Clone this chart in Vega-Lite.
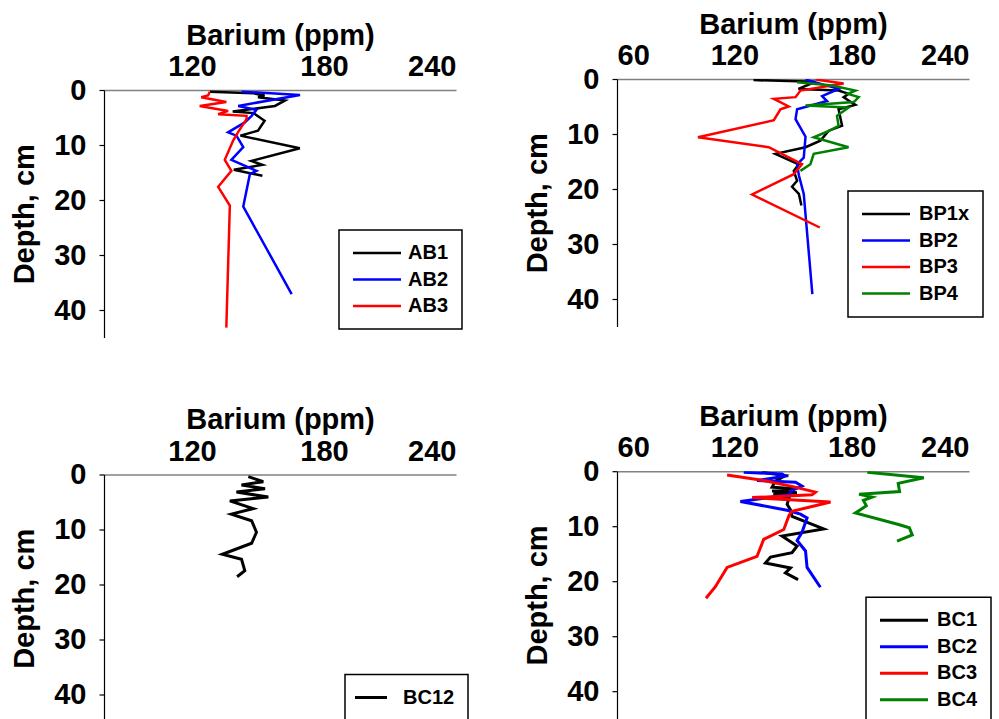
{
  "$schema": "https://vega.github.io/schema/vega-lite/v6.json",
  "autosize": {"type": "pad"},
  "padding": {"left": 10, "top": 10, "right": 0, "bottom": 0},
  "background": "white",
  "datasets": {
    "ab": [
      {"s":"AB1","v":128.1,"d":0.3},{"s":"AB1","v":148,"d":0.6},{"s":"AB1","v":153,"d":1.0},{"s":"AB1","v":150,"d":1.3},{"s":"AB1","v":162.3,"d":1.9},{"s":"AB1","v":157.7,"d":2.9},{"s":"AB1","v":150,"d":3.3},{"s":"AB1","v":138.5,"d":3.9},{"s":"AB1","v":148,"d":4.2},{"s":"AB1","v":153,"d":5.6},{"s":"AB1","v":150,"d":7.4},{"s":"AB1","v":142,"d":8.3},{"s":"AB1","v":169,"d":10.6},{"s":"AB1","v":147,"d":12.9},{"s":"AB1","v":152,"d":13.6},{"s":"AB1","v":139,"d":14.5},{"s":"AB1","v":152,"d":15.6},
      {"s":"AB2","v":142.5,"d":0.3},{"s":"AB2","v":169.1,"d":0.9},{"s":"AB2","v":141,"d":2.9},{"s":"AB2","v":149.3,"d":3.6},{"s":"AB2","v":147.1,"d":4.7},{"s":"AB2","v":144,"d":5.9},{"s":"AB2","v":136.4,"d":7.7},{"s":"AB2","v":140.2,"d":8.3},{"s":"AB2","v":143.3,"d":10.4},{"s":"AB2","v":137.9,"d":12.7},{"s":"AB2","v":149.3,"d":14.7},{"s":"AB2","v":146.3,"d":15.3},{"s":"AB2","v":143.3,"d":21.2},{"s":"AB2","v":165.3,"d":37.1},
      {"s":"AB3","v":128.1,"d":0.3},{"s":"AB3","v":127.3,"d":1.0},{"s":"AB3","v":124.2,"d":1.3},{"s":"AB3","v":135.6,"d":2.2},{"s":"AB3","v":123.5,"d":2.9},{"s":"AB3","v":136.4,"d":3.8},{"s":"AB3","v":131.9,"d":4.4},{"s":"AB3","v":144.8,"d":4.7},{"s":"AB3","v":144.8,"d":5.3},{"s":"AB3","v":141,"d":7.6},{"s":"AB3","v":138.7,"d":9.2},{"s":"AB3","v":134.9,"d":12.7},{"s":"AB3","v":137.9,"d":14.7},{"s":"AB3","v":131.9,"d":17.6},{"s":"AB3","v":137.2,"d":21.0},{"s":"AB3","v":135.6,"d":43.2}
    ],
    "bp": [
      {"s":"BP1x","v":129.8,"d":0.2},{"s":"BP1x","v":161.5,"d":0.5},{"s":"BP1x","v":152.8,"d":1.8},{"s":"BP1x","v":173.3,"d":2.1},{"s":"BP1x","v":178.4,"d":2.7},{"s":"BP1x","v":175.9,"d":3.3},{"s":"BP1x","v":178.4,"d":3.9},{"s":"BP1x","v":181.9,"d":4.7},{"s":"BP1x","v":173.3,"d":5.5},{"s":"BP1x","v":175.1,"d":8.5},{"s":"BP1x","v":168.3,"d":9.4},{"s":"BP1x","v":164,"d":11.2},{"s":"BP1x","v":156.4,"d":12.4},{"s":"BP1x","v":141,"d":13.6},{"s":"BP1x","v":152.9,"d":15.5},{"s":"BP1x","v":150.4,"d":16.7},{"s":"BP1x","v":152.1,"d":18.5},{"s":"BP1x","v":149.5,"d":19.6},{"s":"BP1x","v":153,"d":20.9},{"s":"BP1x","v":154.3,"d":23},
      {"s":"BP2","v":156.4,"d":0.1},{"s":"BP2","v":173.3,"d":1.8},{"s":"BP2","v":164.9,"d":3.1},{"s":"BP2","v":167.4,"d":4.0},{"s":"BP2","v":152.1,"d":5.5},{"s":"BP2","v":151.3,"d":7.3},{"s":"BP2","v":156.4,"d":10.5},{"s":"BP2","v":155.5,"d":14.3},{"s":"BP2","v":152.1,"d":15.5},{"s":"BP2","v":153,"d":17.5},{"s":"BP2","v":155.5,"d":20.9},{"s":"BP2","v":159.9,"d":39.1},
      {"s":"BP3","v":161.5,"d":0.1},{"s":"BP3","v":175.9,"d":0.8},{"s":"BP3","v":153.8,"d":2.1},{"s":"BP3","v":151.3,"d":3.3},{"s":"BP3","v":140.2,"d":3.6},{"s":"BP3","v":147.8,"d":5.0},{"s":"BP3","v":143.6,"d":5.5},{"s":"BP3","v":140.2,"d":7.5},{"s":"BP3","v":101.4,"d":10.6},{"s":"BP3","v":137.6,"d":12.4},{"s":"BP3","v":154.6,"d":15.5},{"s":"BP3","v":150.4,"d":17.3},{"s":"BP3","v":129.1,"d":21.0},{"s":"BP3","v":163.7,"d":27.0},
      {"s":"BP4","v":152.1,"d":0.6},{"s":"BP4","v":170,"d":1.2},{"s":"BP4","v":181.9,"d":2.1},{"s":"BP4","v":178,"d":2.7},{"s":"BP4","v":183.6,"d":3.3},{"s":"BP4","v":181.1,"d":4.2},{"s":"BP4","v":156.4,"d":4.8},{"s":"BP4","v":178.4,"d":5.2},{"s":"BP4","v":172.5,"d":6.7},{"s":"BP4","v":173.3,"d":8.5},{"s":"BP4","v":168,"d":9.5},{"s":"BP4","v":160.6,"d":10.6},{"s":"BP4","v":178.4,"d":12.4},{"s":"BP4","v":160.6,"d":13.6},{"s":"BP4","v":158.9,"d":15.5},{"s":"BP4","v":153.8,"d":16.7}
    ],
    "bc12": [
      {"s":"BC12","v":145.6,"d":0.4},{"s":"BC12","v":152.4,"d":1.3},{"s":"BC12","v":142.5,"d":1.9},{"s":"BC12","v":153.2,"d":2.6},{"s":"BC12","v":140.2,"d":3.2},{"s":"BC12","v":154.7,"d":4.1},{"s":"BC12","v":137.2,"d":4.8},{"s":"BC12","v":147.8,"d":6.2},{"s":"BC12","v":137.9,"d":7.2},{"s":"BC12","v":147.1,"d":8.4},{"s":"BC12","v":149.3,"d":10.5},{"s":"BC12","v":147.1,"d":12.5},{"s":"BC12","v":133.8,"d":14.5},{"s":"BC12","v":142.5,"d":15.4},{"s":"BC12","v":144,"d":17.5},{"s":"BC12","v":140.5,"d":18.6}
    ],
    "bc": [
      {"s":"BC1","v":134.2,"d":0.2},{"s":"BC1","v":146,"d":0.8},{"s":"BC1","v":141,"d":1.8},{"s":"BC1","v":139.3,"d":2.9},{"s":"BC1","v":151,"d":3.2},{"s":"BC1","v":139.3,"d":3.6},{"s":"BC1","v":152,"d":3.9},{"s":"BC1","v":140,"d":4.2},{"s":"BC1","v":148,"d":4.8},{"s":"BC1","v":147,"d":6.0},{"s":"BC1","v":148.7,"d":7.0},{"s":"BC1","v":149.5,"d":8.2},{"s":"BC1","v":165.7,"d":10.5},{"s":"BC1","v":144.4,"d":11.8},{"s":"BC1","v":152.1,"d":13.6},{"s":"BC1","v":149.5,"d":14.8},{"s":"BC1","v":138.5,"d":15.6},{"s":"BC1","v":135.9,"d":16.7},{"s":"BC1","v":148.7,"d":17.6},{"s":"BC1","v":146.1,"d":18.5},{"s":"BC1","v":152.6,"d":19.7},
      {"s":"BC2","v":124.8,"d":0.2},{"s":"BC2","v":144.4,"d":0.5},{"s":"BC2","v":146,"d":0.9},{"s":"BC2","v":131.6,"d":1.7},{"s":"BC2","v":151.3,"d":2.0},{"s":"BC2","v":154.6,"d":2.7},{"s":"BC2","v":149.5,"d":3.5},{"s":"BC2","v":148,"d":4.3},{"s":"BC2","v":123.1,"d":5.5},{"s":"BC2","v":147,"d":7.1},{"s":"BC2","v":153.8,"d":7.8},{"s":"BC2","v":157.2,"d":8.5},{"s":"BC2","v":154.6,"d":11.1},{"s":"BC2","v":152.1,"d":12.6},{"s":"BC2","v":156.4,"d":14.5},{"s":"BC2","v":157.2,"d":17.5},{"s":"BC2","v":164,"d":21.1},
      {"s":"BC3","v":116.3,"d":0.7},{"s":"BC3","v":135,"d":1.7},{"s":"BC3","v":150,"d":2.8},{"s":"BC3","v":161.5,"d":3.8},{"s":"BC3","v":159.7,"d":4.3},{"s":"BC3","v":129.1,"d":4.8},{"s":"BC3","v":169.2,"d":5.6},{"s":"BC3","v":149.5,"d":7.3},{"s":"BC3","v":148,"d":8.0},{"s":"BC3","v":145.3,"d":10.6},{"s":"BC3","v":135,"d":12.4},{"s":"BC3","v":131.6,"d":15.5},{"s":"BC3","v":116.3,"d":17.5},{"s":"BC3","v":110.3,"d":21},{"s":"BC3","v":105.5,"d":23.1},
      {"s":"BC4","v":188,"d":0.2},{"s":"BC4","v":216.9,"d":1.2},{"s":"BC4","v":203.8,"d":2.2},{"s":"BC4","v":204.5,"d":3.7},{"s":"BC4","v":183.8,"d":4.2},{"s":"BC4","v":190.5,"d":4.7},{"s":"BC4","v":186,"d":5.3},{"s":"BC4","v":187.5,"d":6.3},{"s":"BC4","v":181.9,"d":7.6},{"s":"BC4","v":204,"d":9.7},{"s":"BC4","v":209.5,"d":10.3},{"s":"BC4","v":211,"d":11.6},{"s":"BC4","v":203.2,"d":12.7}
    ]
  },
  "hconcat": [
    {
      "vconcat": [
        {"width": 352, "height": 1, "data": {"values": []}, "mark": "point"},
        {
          "vconcat": [
            {
              "width": 352, "height": 247.5,
              "data": {"name": "ab"},
              "mark": {"type": "line", "strokeWidth": 2.5, "clip": true},
              "encoding": {
                "x": {"field": "v", "type": "quantitative", "scale": {"domain": [80, 240], "nice": false, "zero": false}, "axis": {"orient": "top", "title": "Barium (ppm)", "values": [120, 180, 240]}},
                "y": {"field": "d", "type": "quantitative", "scale": {"domain": [0, 45], "reverse": true, "nice": false}, "axis": {"title": "Depth, cm", "values": [0, 10, 20, 30, 40]}},
                "color": {"field": "s", "type": "nominal", "scale": {"domain": ["AB1", "AB2", "AB3"], "range": ["#000000", "#0000ff", "#ff0000"]}, "legend": {"orient": "none", "legendX": 235, "legendY": 140, "title": null, "labelOffset": 21}},
                "order": {"field": "d", "type": "quantitative"}
              }
            },
            {
              "width": 352, "height": 247.5,
              "data": {"name": "bc12"},
              "mark": {"type": "line", "strokeWidth": 3, "clip": true},
              "encoding": {
                "x": {"field": "v", "type": "quantitative", "scale": {"domain": [80, 240], "nice": false, "zero": false}, "axis": {"orient": "top", "title": "Barium (ppm)", "values": [120, 180, 240]}},
                "y": {"field": "d", "type": "quantitative", "scale": {"domain": [0, 45], "reverse": true, "nice": false}, "axis": {"title": "Depth, cm", "values": [0, 10, 20, 30, 40]}},
                "color": {"field": "s", "type": "nominal", "scale": {"domain": ["BC12"], "range": ["#000000"]}, "legend": {"orient": "none", "legendX": 241, "legendY": 200, "title": null, "symbolType": "M-3.2,0H3.2", "symbolStrokeWidth": 3, "symbolOffset": 3, "labelOffset": 22}},
                "order": {"field": "d", "type": "quantitative"}
              }
            }
          ],
          "spacing": 136.5,
          "bounds": "flush",
          "resolve": {"scale": {"color": "independent", "x": "independent", "y": "independent"}, "legend": {"color": "independent"}}
        }
      ],
      "spacing": 10,
      "bounds": "flush",
      "resolve": {"scale": {"color": "independent", "x": "independent", "y": "independent"}, "legend": {"color": "independent"}}
    },
    {
      "vconcat": [
        {
          "width": 352, "height": 247.5,
          "data": {"name": "bp"},
          "mark": {"type": "line", "strokeWidth": 2.5, "clip": true},
          "encoding": {
            "x": {"field": "v", "type": "quantitative", "scale": {"domain": [60, 240], "nice": false, "zero": false}, "axis": {"orient": "top", "title": "Barium (ppm)", "values": [60, 120, 180, 240]}},
            "y": {"field": "d", "type": "quantitative", "scale": {"domain": [0, 45], "reverse": true, "nice": false}, "axis": {"title": "Depth, cm", "values": [0, 10, 20, 30, 40]}},
            "color": {"field": "s", "type": "nominal", "scale": {"domain": ["BP1x", "BP2", "BP3", "BP4"], "range": ["#000000", "#0000ff", "#ff0000", "#008000"]}, "legend": {"orient": "none", "legendX": 231, "legendY": 112, "title": null}},
            "order": {"field": "d", "type": "quantitative"}
          }
        },
        {
          "width": 352, "height": 247.5,
          "data": {"name": "bc"},
          "mark": {"type": "line", "strokeWidth": 3, "clip": true},
          "encoding": {
            "x": {"field": "v", "type": "quantitative", "scale": {"domain": [60, 240], "nice": false, "zero": false}, "axis": {"orient": "top", "title": "Barium (ppm)", "values": [60, 120, 180, 240]}},
            "y": {"field": "d", "type": "quantitative", "scale": {"domain": [0, 45], "reverse": true, "nice": false}, "axis": {"title": "Depth, cm", "values": [0, 10, 20, 30, 40]}},
            "color": {"field": "s", "type": "nominal", "scale": {"domain": ["BC1", "BC2", "BC3", "BC4"], "range": ["#000000", "#0000ff", "#ff0000", "#008000"]}, "legend": {"orient": "none", "legendX": 249, "legendY": 126, "title": null, "symbolStrokeWidth": 3}},
            "order": {"field": "d", "type": "quantitative"}
          }
        }
      ],
      "spacing": 144.2,
      "bounds": "flush",
      "resolve": {"scale": {"color": "independent", "x": "independent", "y": "independent"}, "legend": {"color": "independent"}}
    }
  ],
  "spacing": 513,
  "bounds": "flush",
  "resolve": {"scale": {"color": "independent", "x": "independent", "y": "independent"}, "legend": {"color": "independent"}},
  "config": {
    "font": "Liberation Sans",
    "view": {"stroke": null},
    "axis": {
      "grid": false,
      "labelFont": "Liberation Sans", "labelFontWeight": "bold", "labelFontSize": 29, "labelColor": "#000000",
      "titleFont": "Liberation Sans", "titleFontWeight": "bold", "titleFontSize": 29, "titleColor": "#000000"
    },
    "axisX": {"domainColor": "#808080", "domainWidth": 1.5, "ticks": false, "tickSize": 0, "labelPadding": 14.5, "labelBaseline": "alphabetic", "titleBaseline": "alphabetic", "titlePadding": 8.5},
    "axisY": {"domainColor": "#000000", "domainWidth": 1.2, "tickColor": "#000000", "tickSize": 5, "tickWidth": 1.2, "labelPadding": 13, "titleBaseline": "alphabetic", "titlePadding": 20},
    "legend": {
      "labelFont": "Liberation Sans", "labelFontWeight": "bold", "labelFontSize": 20, "labelColor": "#000000",
      "strokeColor": "#000000", "strokeWidth": 1.5, "fillColor": "#ffffff",
      "padding": 13, "rowPadding": 6.5,
      "symbolType": "M-4.8,0H4.8", "symbolSize": 100, "symbolStrokeWidth": 2.5, "symbolOffset": 15, "labelOffset": 23
    }
  }
}
